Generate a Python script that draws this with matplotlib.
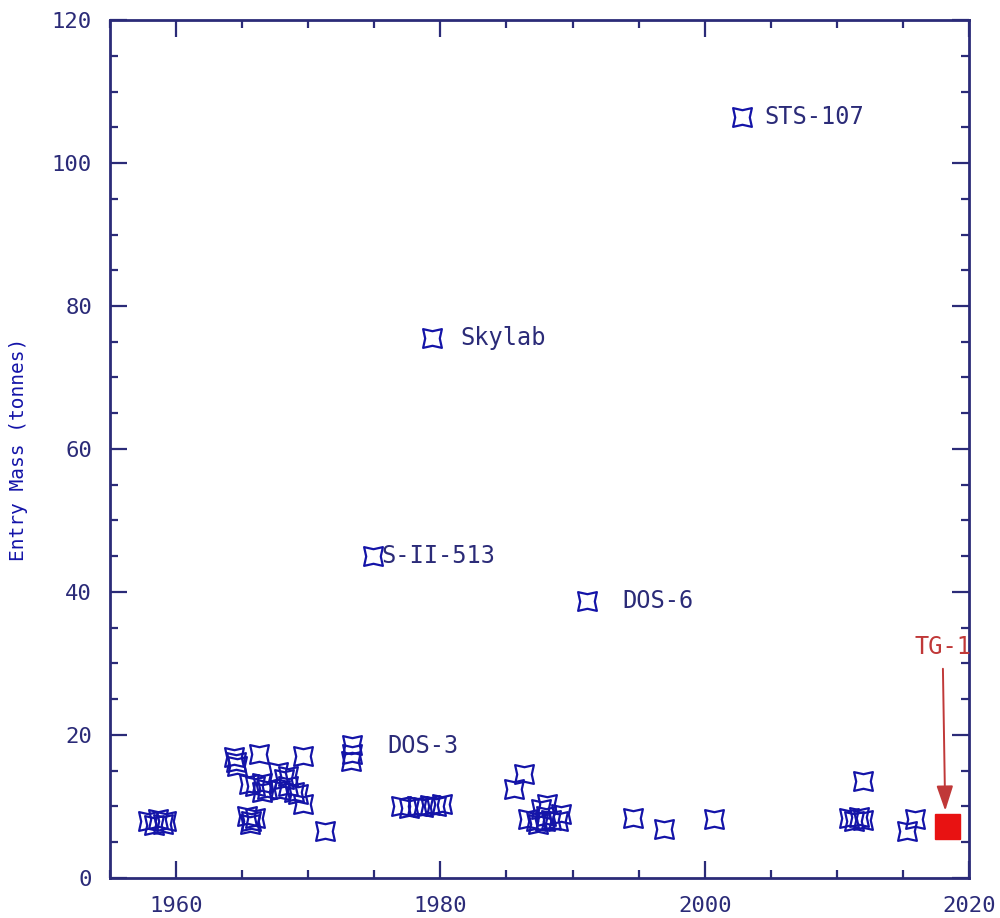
import matplotlib
matplotlib.use("Agg")
import matplotlib.pyplot as plt
from matplotlib.path import Path
from matplotlib.transforms import Affine2D
from matplotlib.ticker import MultipleLocator

# === DATA ===
# unlabelled re-entries (year, tonnes)
years = [1957.9, 1958.3, 1958.6, 1959.0, 1959.2,
         1964.4, 1964.5, 1964.6, 1966.3,
         1965.5, 1966.0, 1966.5, 1966.9, 1966.5,
         1965.4, 1965.7, 1966.0, 1965.6,
         1967.7, 1968.2, 1968.5, 1968.9, 1967.9, 1969.2, 1968.5,
         1969.6, 1969.6, 1971.3,
         1973.3, 1973.3, 1973.2,
         1977.0, 1977.6, 1978.2, 1978.7, 1979.2, 1979.7, 1980.1,
         1985.6, 1986.3,
         1986.6, 1987.2, 1987.6, 1988.0, 1988.4, 1988.9, 1989.1, 1987.4, 1988.1, 1987.9,
         1994.6, 1996.9, 2000.7,
         2010.9, 2011.3, 2011.7, 2012.0, 2012.0,
         2015.3, 2015.9]
masses = [8.0, 7.4, 8.3, 7.6, 8.0,
          16.9, 16.2, 15.6, 17.3,
          13.1, 12.9, 13.3, 12.5, 12.0,
          8.6, 8.0, 8.4, 7.6,
          14.8, 13.9, 12.8, 12.0, 12.3, 11.8, 14.2,
          17.1, 10.3, 6.6,
          18.6, 17.4, 16.4,
          10.0, 9.8, 10.1, 9.9, 10.2, 10.0, 10.3,
          12.4, 14.6,
          8.2, 8.0, 9.6, 8.6, 8.1, 7.9, 9.0, 7.6, 10.3, 8.0,
          8.4, 6.8, 8.3,
          8.4, 8.0, 8.5, 8.1, 13.6,
          6.6, 8.3]

# named objects
named = ["STS-107", "Skylab", "S-II-513", "DOS-6"]
named_years = [2002.8, 1979.4, 1974.9, 1991.1]
named_masses = [106.4, 75.5, 45.0, 38.8]
named_offsets = [23, 28, 8, 35]   # text offset in pixels

dos3_label = "DOS-3"
dos3_year, dos3_mass = 1973.3, 18.6

tg1_year, tg1_mass = 2018.3, 7.2

navy = "#2b2b78"
blue = "#1414a8"
red = "#e81212"
darkred = "#c03838"

# === MARKER: concave 4-point star ===
star = Path.unit_regular_star(4, innerCircle=0.55)
star = star.transformed(Affine2D().rotate_deg(45))

# === FIGURE ===
fig = plt.figure(figsize=(10, 9.18), dpi=100)
ax = fig.add_axes([0.110, 0.0436, 0.859, 0.9346])

ax.plot(years, masses, linestyle="none", marker=star, markersize=13.5,
        markerfacecolor="none", markeredgecolor=blue, markeredgewidth=1.6)
ax.plot(named_years, named_masses, linestyle="none", marker=star, markersize=13.5,
        markerfacecolor="none", markeredgecolor=blue, markeredgewidth=1.6)

for name, x, y, off in zip(named, named_years, named_masses, named_offsets):
    ax.annotate(name, (x, y), xytext=(off * 0.72, 0), textcoords="offset points",
                ha="left", va="center", fontsize=17, color=navy,
                family="DejaVu Sans Mono")

ax.annotate(dos3_label, (dos3_year, dos3_mass), xytext=(36 * 0.72, -0.5),
            textcoords="offset points", ha="left", va="center", fontsize=17,
            color=navy, family="DejaVu Sans Mono")

# TG-1 highlighted
ax.plot([tg1_year], [tg1_mass], linestyle="none", marker="s", markersize=18,
        color=red)
ax.annotate("TG-1", (tg1_year - 0.1, tg1_mass + 2.2), xytext=(tg1_year - 0.3, 32.3),
            ha="center", va="center", fontsize=17, color=darkred,
            family="DejaVu Sans Mono", annotation_clip=False,
            arrowprops=dict(arrowstyle="-|>,head_length=0.9,head_width=0.3",
                            color=darkred, lw=1.4, shrinkA=5, shrinkB=0))

# === AXES STYLE ===
ax.set_xlim(1955, 2020)
ax.set_ylim(0, 120)
ax.xaxis.set_major_locator(MultipleLocator(20))
ax.xaxis.set_minor_locator(MultipleLocator(5))
ax.yaxis.set_major_locator(MultipleLocator(20))
ax.yaxis.set_minor_locator(MultipleLocator(5))
ax.tick_params(which="both", direction="in", top=True, right=True,
               color=navy, width=1.6, labelcolor=navy, labelsize=16)
ax.tick_params(which="major", length=12, pad=13)
ax.tick_params(which="minor", length=6)
for lab in ax.get_xticklabels() + ax.get_yticklabels():
    lab.set_family("DejaVu Sans Mono")
for s in ax.spines.values():
    s.set_color(navy)
    s.set_linewidth(2)

ax.set_ylabel("Entry Mass (tonnes)", fontsize=14, color=blue,
              family="DejaVu Sans Mono")
ax.yaxis.set_label_coords(-0.096, 0.5)

fig.savefig("out.png", dpi=100)
